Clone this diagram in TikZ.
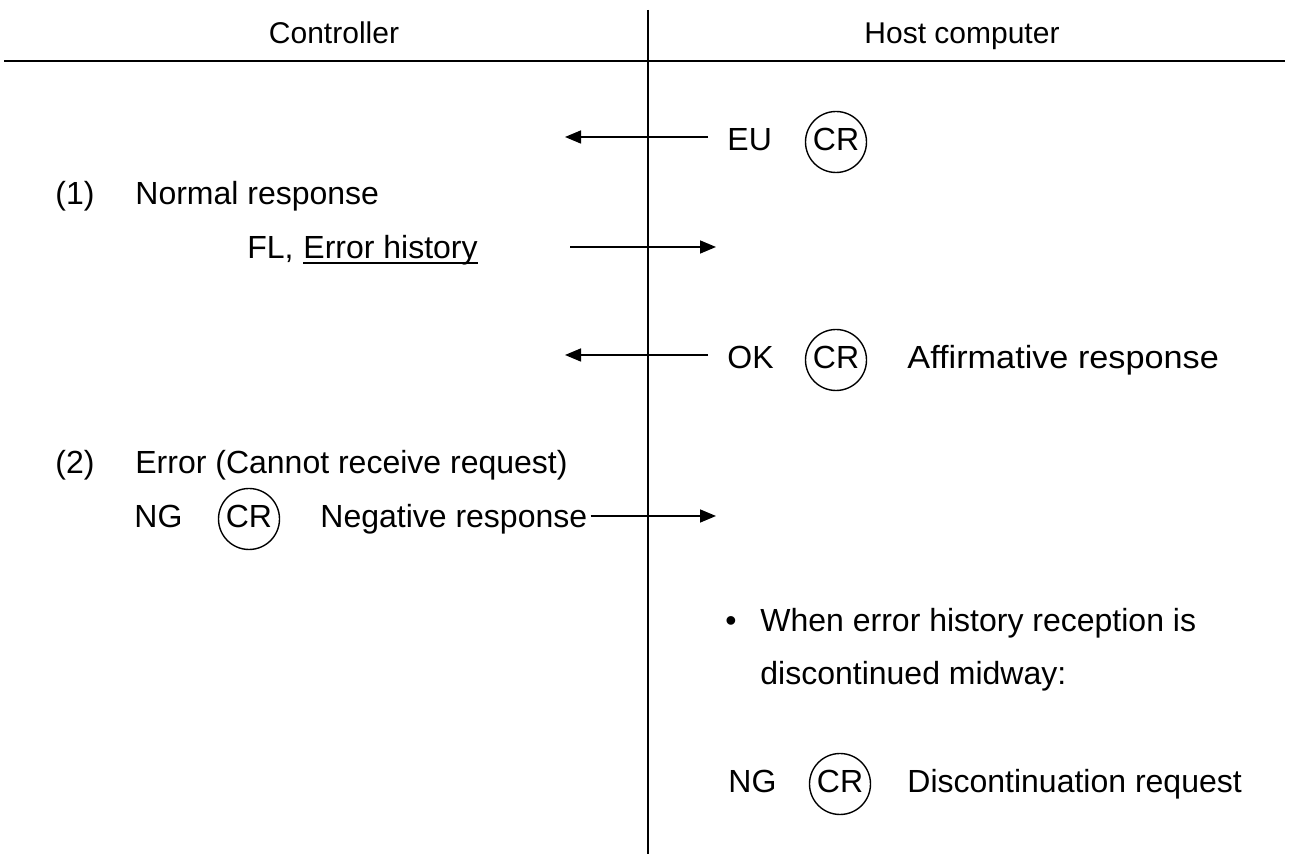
\documentclass[tikz,border=0pt]{standalone}
\usepackage{fontspec}
\setmainfont{Liberation Sans}
\usetikzlibrary{arrows.meta}
\begin{document}
\begin{tikzpicture}[x=0.5pt,y=-0.5pt,
  fnt/.style={inner sep=0pt,text height=11.4pt,text depth=0pt,font=\fontsize{16}{19}\selectfont},
  txt/.style={fnt,anchor=west},
  hdr/.style={inner sep=0pt,text height=10.8pt,text depth=0pt,font=\fontsize{15}{18}\selectfont,anchor=center},
  crc/.style={fnt,text depth=2.5pt,circle,draw,line width=0.7pt,minimum size=30.5pt},
  msg/.style={line width=0.8pt,-{Triangle[length=8pt,width=6.5pt]}},
  rule/.style={line width=1pt}]
\useasboundingbox (0,0) rectangle (1291,854);
% frame
\coordinate (vtop) at (648,10);
\coordinate (vbot) at (648,854);
\coordinate (hl) at (4,61);
\coordinate (hr) at (1285,61);
\draw[rule] (vtop) -- (vbot);
\draw[line width=1.2pt] (hl) -- (hr);
\node[hdr] (ctrl) at (334,33) {Controller};
\node[hdr] (host) at (962,33) {Host computer};
% EU
\node[txt] (eu) at (727,139) {EU};
\node[crc] (cr1) at (836,142) {CR};
\coordinate (a1s) at (708,137);
\coordinate (a1e) at (565,137);
\draw[msg] (a1s) -- (a1e);
% (1)
\node[txt] (n1) at (55,193) {(1)};
\node[txt] (nr) at (135,193) {Normal response};
\node[txt] (fl) at (247,247) {FL,};
\node[txt,anchor=base west] (eh) at ([xshift=4.5pt]fl.base east) {Error history};
\draw[line width=0.9pt] ([yshift=-2.4pt]eh.base west) -- ([yshift=-2.4pt]eh.base east);
\coordinate (a2s) at (570,247);
\coordinate (a2e) at (716,247);
\draw[msg] (a2s) -- (a2e);
% OK
\node[txt] (ok) at (727,357) {OK};
\node[crc] (cr2) at (836,360) {CR};
\node[txt,xscale=1.07] (aff) at (907,357) {Affirmative response};
\coordinate (a3s) at (708,355);
\coordinate (a3e) at (565,355);
\draw[msg] (a3s) -- (a3e);
% (2)
\node[txt] (n2) at (55,462) {(2)};
\node[txt] (err) at (135,462) {Error (Cannot receive request)};
\node[txt] (ng1) at (134,516) {NG};
\node[crc] (cr3) at (249,519) {CR};
\node[txt] (neg) at (320,516) {Negative response};
\coordinate (a4e) at (716,516);
\draw[msg] ([xshift=1.5pt]neg.east) -- (a4e);
% note
\node[txt] (bul) at (725,620) {•};
\node[txt] (w1) at (760,620) {When error history reception is};
\node[txt] (w2) at (760,673) {discontinued midway:};
\node[txt] (ng2) at (728,781) {NG};
\node[crc] (cr4) at (840,784) {CR};
\node[txt] (disc) at (907,781) {Discontinuation request};
\end{tikzpicture}
\end{document}
